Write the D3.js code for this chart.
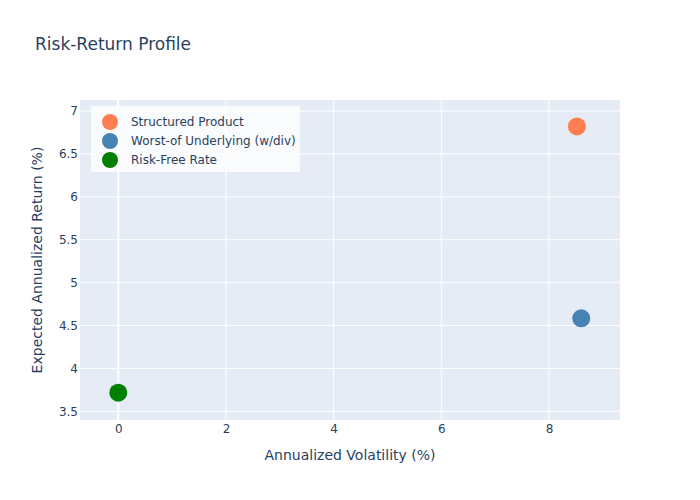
<!DOCTYPE html>
<html>
<head>
<meta charset="utf-8">
<script src="https://cdn.jsdelivr.net/npm/d3@7"></script>
<style>
  body { margin: 0; background: #fff; }
  text { font-family: "DejaVu Sans", verdana, arial, sans-serif; fill: #2a3f5f; }
</style>
</head>
<body>
<div id="chart"></div>
<script>
const names = ["Structured Product", "Worst-of Underlying (w/div)", "Risk-Free Rate"]
const volatility = [8.52, 8.60, 0]
const expReturn = [6.82, 4.584, 3.717]
const colors = ["#ff7f50", "#4682b4", "#008000"]
const xTicks = [0, 2, 4, 6, 8]
const yTicks = [3.5, 4, 4.5, 5, 5.5, 6, 6.5, 7]

const width = 700
const height = 500
const margin = { top: 100, bottom: 80, left: 80, right: 80 }
const innerW = width - margin.left - margin.right
const innerH = height - margin.top - margin.bottom

const svg = d3.select("div#chart").append("svg").attr("width", width).attr("height", height)

const x = d3.scaleLinear().domain([-0.711, 9.32]).range([0, innerW])
const y = d3.scaleLinear().domain([3.399, 7.128]).range([innerH, 0])

const plot = svg.append("g").attr("transform", `translate(${margin.left}, ${margin.top})`)
plot.append("rect").attr("width", innerW).attr("height", innerH).attr("fill", "#e5ecf6")

// grid
plot.selectAll("line.gx").data(xTicks).enter().append("line")
    .attr("x1", d => x(d)).attr("x2", d => x(d))
    .attr("y1", 0).attr("y2", innerH)
    .attr("stroke", "#fff").attr("stroke-width", d => d === 0 ? 2 : 1)
plot.selectAll("line.gy").data(yTicks).enter().append("line")
    .attr("y1", d => y(d)).attr("y2", d => y(d))
    .attr("x1", 0).attr("x2", innerW)
    .attr("stroke", "#fff").attr("stroke-width", 1)

// axes
const xAxis = d3.axisBottom(x).tickValues(xTicks).tickSize(0).tickPadding(4).tickFormat(d3.format("~g"))
const yAxis = d3.axisLeft(y).tickValues(yTicks).tickSize(0).tickPadding(2).tickFormat(d3.format("~g"))
const xAxisGroup = plot.append("g").attr("transform", `translate(0, ${innerH})`).call(xAxis)
const yAxisGroup = plot.append("g").call(yAxis)
;[xAxisGroup, yAxisGroup].forEach(g => {
    g.select(".domain").remove()
    g.selectAll("text").style("font-size", "12px").attr("fill", "#2a3f5f")
})

// points
const data = names.map((n, i) => ({ name: n, vol: volatility[i], ret: expReturn[i], color: colors[i] }))
plot.selectAll("circle.pt").data(data).enter().append("circle")
    .attr("cx", d => x(d.vol)).attr("cy", d => y(d.ret)).attr("r", 9)
    .attr("fill", d => d.color)

// legend
const legend = svg.append("g").attr("transform", "translate(91, 106)")
legend.append("rect").attr("width", 209).attr("height", 66).attr("fill", "rgba(255,255,255,0.8)")
data.forEach((d, i) => {
    const ly = 16 + i * 19
    legend.append("circle").attr("cx", 19).attr("cy", ly).attr("r", 8).attr("fill", d.color)
    legend.append("text").attr("x", 40).attr("y", ly).attr("dy", "0.35em")
        .style("font-size", "12px").text(d.name)
})

// titles
svg.append("text").attr("x", 35).attr("y", 50).style("font-size", "17px").text("Risk-Return Profile")
svg.append("text").attr("x", margin.left + innerW / 2).attr("y", 460).attr("text-anchor", "middle")
    .style("font-size", "14px").text("Annualized Volatility (%)")
svg.append("text").attr("transform", `translate(42, ${margin.top + innerH / 2}) rotate(-90)`)
    .attr("text-anchor", "middle").style("font-size", "14px").text("Expected Annualized Return (%)")
</script>
</body>
</html>
